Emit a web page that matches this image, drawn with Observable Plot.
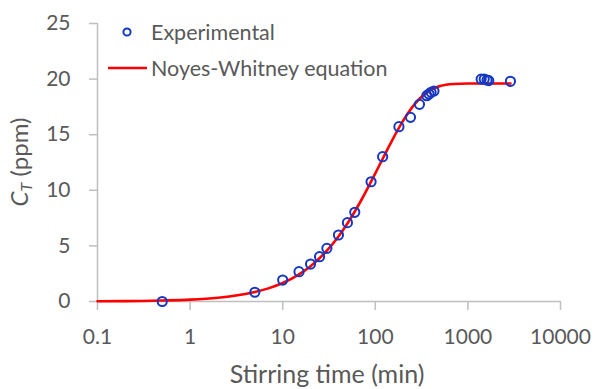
<!DOCTYPE html>
<html>
<head>
<meta charset="utf-8">
<script src="https://cdn.jsdelivr.net/npm/d3@7"></script>
<script src="https://cdn.jsdelivr.net/npm/@observablehq/plot@0.6"></script>
<style>
  html, body { margin: 0; padding: 0; background: #fff; }
  #wrap { position: relative; width: 595px; height: 389px; font-family: Lato, "Open Sans", sans-serif; }
  .legend { position: absolute; left: 0; top: 0; font-size: 21.5px; color: #595959; }
  .legend .row { position: absolute; white-space: nowrap; display: flex; align-items: center; height: 26px; line-height: 26px; }
  .legend svg { display: block; }
</style>
</head>
<body>
<div id="wrap"></div>
<script>
// Measured dissolution: stirring time (min) and total concentration C_T (ppm)
const expTime = [0.5, 5, 10, 15, 20, 25, 30, 40, 50, 60, 90, 120, 180, 240, 300, 360, 380, 400, 430, 1390, 1500, 1610, 1680, 2880];
const expConc = [0.0, 0.83, 1.93, 2.68, 3.37, 4.03, 4.78, 5.98, 7.09, 8.02, 10.77, 13.02, 15.72, 16.56, 17.73, 18.51, 18.66, 18.81, 18.93, 20.0, 20.0, 19.92, 19.86, 19.8];

// Fitted Noyes-Whitney curve, sampled along the time axis
const fitTime = [0.1, 0.2, 0.5, 1, 2, 3, 5, 7, 10, 15, 20, 30, 40, 50, 70, 100, 150, 200, 300, 400, 500, 700, 1000, 2000, 2880];
const fitConc = [0.02, 0.03, 0.09, 0.17, 0.34, 0.51, 0.85, 1.18, 1.66, 2.44, 3.18, 4.57, 5.85, 7.01, 9.06, 11.52, 14.41, 16.27, 18.23, 19.03, 19.37, 19.56, 19.6, 19.6, 19.6];

// Axis ticks
const xTicks = [0.1, 1, 10, 100, 1000, 10000];
const xTickLabels = ["0.1", "1", "10", "100", "1000", "10000"];
const yTicks = [0, 5, 10, 15, 20, 25];

const experimental = expTime.map((t, i) => ({t, c: expConc[i]}));
const fitted = fitTime.map((t, i) => ({t, c: fitConc[i]}));

const axisGray = "#bfbfbf";
const textGray = "#595959";
const blue = "#1538c4";
const red = "#ff0000";

const chart = Plot.plot({
  width: 595,
  height: 389,
  marginLeft: 97,
  marginRight: 35,
  marginTop: 23,
  marginBottom: 88,
  style: {fontFamily: "Lato, 'Open Sans', sans-serif", fontSize: "21px", color: textGray, background: "#fff"},
  x: {type: "log", domain: [0.1, 10000], label: null},
  y: {domain: [0, 25], label: null},
  marks: [
    Plot.ruleY([0], {stroke: axisGray, strokeWidth: 1.5}),
    Plot.ruleX([0.1], {stroke: axisGray, strokeWidth: 1.5}),
    Plot.axisX({ticks: xTicks, tickFormat: d => xTickLabels[xTicks.indexOf(d)], tickSize: 9, tickPadding: 19, stroke: axisGray, strokeWidth: 1.5, fill: textGray, fontSize: 21, label: null}),
    Plot.axisY({ticks: yTicks, tickSize: 8, tickPadding: 19, stroke: axisGray, strokeWidth: 1.5, fill: textGray, fontSize: 21, label: null}),
    Plot.line(fitted, {x: "t", y: "c", stroke: red, strokeWidth: 2.6, curve: "monotone-x"}),
    Plot.dot(experimental, {x: "t", y: "c", r: 4.6, stroke: blue, strokeWidth: 2, fill: "none"})
  ]
});

const wrap = document.getElementById("wrap");
wrap.appendChild(chart);

// Axis titles as SVG text
const svg = d3.select(chart);
svg.append("text")
  .attr("x", 327).attr("y", 377)
  .attr("text-anchor", "middle").attr("dominant-baseline", "middle")
  .attr("fill", textGray).style("font-size", "25px")
  .text("Stirring time (min)");

const yTitle = svg.append("text")
  .attr("transform", "translate(22,162) rotate(-90)")
  .attr("text-anchor", "middle").attr("dominant-baseline", "middle")
  .attr("fill", textGray).style("font-size", "24px");
yTitle.append("tspan").style("font-style", "italic").text("C");
yTitle.append("tspan").style("font-style", "italic").style("font-size", "16px").attr("dy", 6).text("T");
yTitle.append("tspan").attr("dy", -6).text(" (ppm)");

// Legend
const legend = document.createElement("div");
legend.className = "legend";
legend.innerHTML = `
  <div class="row" style="left:108px; top:19px;">
    <svg width="40" height="22"><circle cx="19" cy="11" r="3.6" fill="none" stroke="${blue}" stroke-width="2"/></svg>
    <span style="margin-left:3px">Experimental</span>
  </div>
  <div class="row" style="left:108px; top:55px;">
    <svg width="40" height="22"><line x1="0" y1="11" x2="39" y2="11" stroke="${red}" stroke-width="2.6"/></svg>
    <span style="margin-left:3px">Noyes-Whitney equation</span>
  </div>`;
wrap.appendChild(legend);
</script>
</body>
</html>
